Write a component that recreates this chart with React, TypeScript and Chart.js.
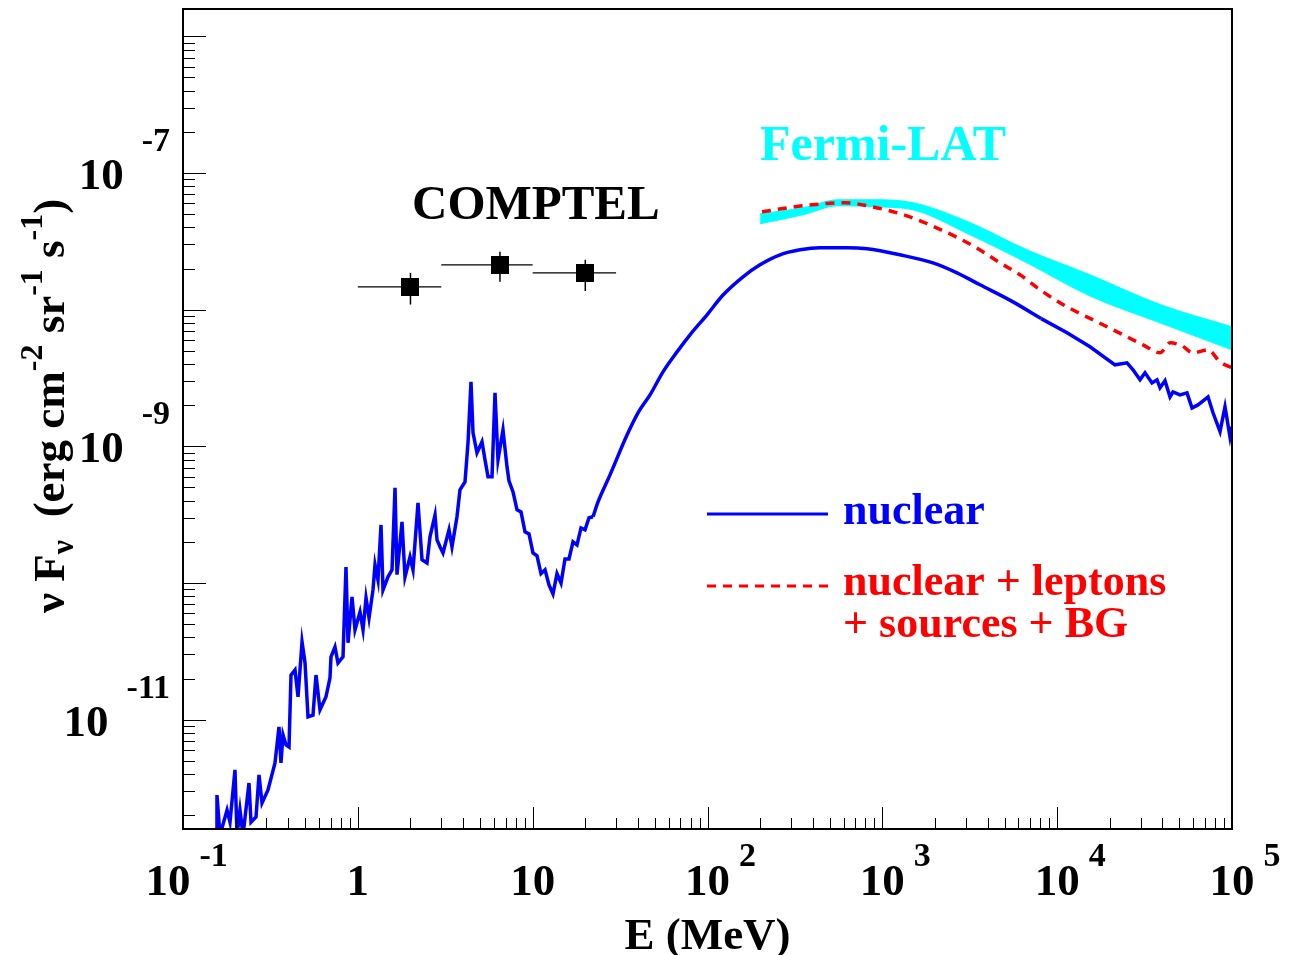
import React, { useEffect, useRef } from "react";
import { Chart, registerables } from "chart.js";

Chart.register(...registerables);

// ---------- data ----------
const nuclearE = [
  0.1545, 0.1564, 0.1628, 0.1786, 0.1857, 0.1983, 0.2037, 0.2118, 0.2204, 0.2385,
  0.2449, 0.2616, 0.2721, 0.2831, 0.3063, 0.3359, 0.354, 0.3634, 0.3733, 0.3883,
  0.404, 0.4147, 0.4372, 0.4549, 0.4796, 0.4989, 0.5188, 0.5541, 0.5764, 0.6075,
  0.6574, 0.693, 0.7022, 0.7401, 0.77, 0.8226, 0.8555, 0.8787, 0.9262, 0.9634,
  1.029, 1.071, 1.114, 1.159, 1.221, 1.254, 1.304, 1.357, 1.393, 1.488,
  1.569, 1.632, 1.675, 1.789, 1.861, 1.988, 2.068, 2.209, 2.328, 2.487,
  2.587, 2.764, 2.837, 2.951, 3.07, 3.323, 3.456, 3.691, 3.84, 4.102,
  4.267, 4.439, 4.558, 4.803, 5.131, 5.339, 5.554, 5.854, 6.09, 6.335,
  6.765, 7.131, 7.32, 7.72, 8.14, 8.58, 9.04, 9.53, 10.04, 10.59,
  11.16, 11.77, 12.4, 13.07, 13.78, 14.53, 15.31, 16.14, 17.01, 17.93,
  18.9, 19.93, 21.0, 22.14, 23.65, 27.7,
  34.64, 40.05, 46.91, 55.66, 66.93, 79.43, 99.36, 122.7, 159.7, 199.7,
  259.9, 338.1, 440.1, 628.1, 817.3, 1262, 1950, 2674, 3620, 5590,
  8100, 11390, 15410, 21420, 25090, 27160, 29780, 31800, 34870, 37250,
  38760, 41390, 44210, 45990, 50430, 55300, 59060, 63920, 72930, 77880,
  85410, 91200, 97410, 100000,
];
const nuclearF = [
  1.43e-12, 2.81e-12, 1.43e-12, 2.18e-12, 1.78e-12, 4.29e-12, 1.43e-12, 2.18e-12, 1.43e-12, 3.44e-12,
  1.78e-12, 1.94e-12, 3.94e-12, 2.46e-12, 3.06e-12, 4.82e-12, 8.85e-12, 4.82e-12, 7.73e-12, 6.53e-12,
  6.31e-12, 2.12e-11, 2.31e-11, 1.47e-11, 3.71e-11, 2.6e-11, 1.05e-11, 1.08e-11, 2.12e-11, 1.18e-11,
  1.47e-11, 2.02e-11, 2.88e-11, 3.4e-11, 2.6e-11, 2.88e-11, 1.31e-10, 3.65e-11, 7.91e-11, 4.54e-11,
  6.14e-11, 4.54e-11, 7.78e-11, 5.56e-11, 8.9e-11, 1.36e-10, 1.05e-10, 2.66e-10, 8.9e-11, 1.11e-10,
  1.25e-10, 4.97e-10, 1.15e-10, 2.8e-10, 1.11e-10, 1.55e-10, 1.25e-10, 3.86e-10, 1.48e-10, 1.4e-10,
  2.18e-10, 3.15e-10, 2.07e-10, 1.84e-10, 1.66e-10, 2.45e-10, 1.84e-10, 3.05e-10, 4.8e-10, 5.5e-10,
  1.06e-9, 2.96e-9, 1.26e-9, 8.96e-10, 1.08e-9, 7.96e-10, 5.98e-10, 5.98e-10, 2.46e-9, 7.96e-10,
  1.32e-9, 7.08e-10, 5.59e-10, 4.64e-10, 3.43e-10, 3.31e-10, 2.37e-10, 2.29e-10, 1.66e-10, 1.58e-10,
  1.17e-10, 1.25e-10, 9.69e-11, 8.32e-11, 1.17e-10, 1.0e-10, 1.5e-10, 1.5e-10, 2.0e-10, 1.9e-10,
  2.53e-10, 2.45e-10, 3.0e-10, 3.05e-10, 3.92e-10, 6.18e-10,
  1.21e-9, 1.76e-9, 2.38e-9, 3.51e-9, 4.91e-9, 6.55e-9, 9.17e-9, 1.28e-8, 1.74e-8, 2.13e-8,
  2.52e-8, 2.74e-8, 2.84e-8, 2.84e-8, 2.79e-8, 2.52e-8, 2.2e-8, 1.86e-8, 1.52e-8, 1.14e-8,
  8.6e-9, 6.77e-9, 5.35e-9, 3.95e-9, 4.08e-9, 3.63e-9, 3.07e-9, 3.45e-9, 2.91e-9, 3.07e-9,
  2.68e-9, 3.02e-9, 2.3e-9, 2.5e-9, 2.38e-9, 2.46e-9, 1.91e-9, 2.01e-9, 2.3e-9, 1.76e-9,
  1.28e-9, 1.95e-9, 1.17e-9, 1.39e-9,
];
// energies where the nuclear curve changes from noisy to smooth and back
const nuclearSmoothFrom = 22.14;
const nuclearSmoothTo = 8100;

const totalE = [
  205, 351.8, 611.7, 873, 1384, 2166, 3390, 4711, 6131, 8300, 11390,
  16900, 23800, 30980, 38760, 44210, 51770, 59840, 72930, 85410, 100000,
];
const totalF = [
  5.2e-8, 5.76e-8, 6.06e-8, 5.66e-8, 4.86e-8, 3.84e-8, 2.88e-8, 2.2e-8, 1.8e-8, 1.35e-8, 1.05e-8,
  8.15e-9, 6.55e-9, 5.53e-9, 4.83e-9, 5.72e-9, 5.44e-9, 4.83e-9, 5.08e-9, 4.15e-9, 3.75e-9,
];

const fermiE = [200, 352, 558, 908, 1498, 3091, 6722, 15400, 38800, 100000];
const fermiHigh = [5.03e-8, 5.57e-8, 6.37e-8, 6.37e-8, 6.06e-8, 4.4e-8, 2.74e-8, 1.8e-8, 1.09e-8, 7.49e-9];
const fermiLow = [4.25e-8, 4.95e-8, 5.76e-8, 5.66e-8, 5.38e-8, 3.59e-8, 2.2e-8, 1.26e-8, 8.01e-9, 5.08e-9];

const comptelE = [2.0, 6.5, 20];
const comptelEmin = [1, 3, 10];
const comptelEmax = [3, 10, 30];
const comptelF = [1.47e-8, 2.13e-8, 1.86e-8];
const comptelFlo = [1.09e-8, 1.6e-8, 1.37e-8];
const comptelFhi = [1.86e-8, 2.65e-8, 2.32e-8];

const xMin = 0.1;
const xMax = 1e5;
const yMin = Math.pow(10, -11.8);
const yMax = Math.pow(10, -5.8);

const xDecades = [-1, 0, 1, 2, 3, 4, 5];
const xTickBase = ["10", "1", "10", "10", "10", "10", "10"];
const xTickExp = ["-1", "", "", "2", "3", "4", "5"];
const yLabelDecades = [-7, -9, -11];
const yDecades = [-12, -11, -10, -9, -8, -7, -6];

// ---------- drawing helpers ----------
const FONT = '"Liberation Serif", "Times New Roman", Times, serif';
const font = (px: number) => `bold ${px}px ${FONT}`;

function txt(ctx: CanvasRenderingContext2D, s: string, x: number, y: number, size: number, color: string, align: CanvasTextAlign = "left") {
  ctx.font = font(size);
  ctx.fillStyle = color;
  ctx.textAlign = align;
  ctx.textBaseline = "alphabetic";
  ctx.fillText(s, x, y);
}

const errorBarPlugin = {
  id: "comptelErrors",
  beforeDatasetsDraw(chart: any) {
    const { ctx, scales } = chart;
    const x = scales.x;
    const y = scales.y;
    ctx.save();
    ctx.strokeStyle = "#000";
    for (let i = 0; i < comptelE.length; i++) {
      const px = x.getPixelForValue(comptelE[i]);
      const py = y.getPixelForValue(comptelF[i]);
      ctx.lineWidth = 1.2;
      ctx.beginPath();
      ctx.moveTo(x.getPixelForValue(comptelEmin[i]), py);
      ctx.lineTo(x.getPixelForValue(comptelEmax[i]), py);
      ctx.stroke();
      ctx.lineWidth = 1.5;
      ctx.beginPath();
      ctx.moveTo(px, y.getPixelForValue(comptelFlo[i]));
      ctx.lineTo(px, y.getPixelForValue(comptelFhi[i]));
      ctx.stroke();
    }
    ctx.restore();
  },
};

const rootAxesPlugin = {
  id: "rootAxes",
  afterDraw(chart: any) {
    const { ctx, chartArea: a, scales } = chart;
    const x = scales.x;
    const y = scales.y;
    ctx.save();

    // ticks
    ctx.strokeStyle = "#000";
    ctx.lineWidth = 1;
    for (const d of xDecades) {
      for (let m = 1; m <= 9; m++) {
        const v = m * Math.pow(10, d);
        if (v < xMin * 0.999 || v > xMax * 1.001) continue;
        const px = Math.round(x.getPixelForValue(v)) + 0.5;
        const len = m === 1 ? 22 : 11;
        ctx.beginPath();
        ctx.moveTo(px, a.bottom);
        ctx.lineTo(px, a.bottom - len);
        ctx.stroke();
      }
    }
    for (const d of yDecades) {
      for (let m = 1; m <= 9; m++) {
        const v = m * Math.pow(10, d);
        if (v < yMin * 0.999 || v > yMax * 1.001) continue;
        const py = Math.round(y.getPixelForValue(v)) + 0.5;
        const len = m === 1 ? 23 : 12;
        ctx.beginPath();
        ctx.moveTo(a.left, py);
        ctx.lineTo(a.left + len, py);
        ctx.stroke();
      }
    }

    // frame
    ctx.lineWidth = 2;
    ctx.strokeRect(a.left, a.top, a.right - a.left, a.bottom - a.top);

    // x tick labels
    xDecades.forEach((d, i) => {
      const px = x.getPixelForValue(Math.pow(10, d));
      const base = xTickBase[i];
      const exp = xTickExp[i];
      if (!exp) {
        txt(ctx, base, px, 895, 45, "#000", "center");
      } else {
        const c = px + (d < 0 ? -15 : 0);
        txt(ctx, base, c, 895, 45, "#000", "center");
        ctx.font = font(45);
        const w = ctx.measureText(base).width;
        txt(ctx, exp, c + w / 2 + 9, 866, 34, "#000", "left");
      }
    });

    // y tick labels
    yLabelDecades.forEach((d) => {
      const py = y.getPixelForValue(Math.pow(10, d));
      const exp = String(d);
      ctx.font = font(34);
      const ew = ctx.measureText(exp).width;
      txt(ctx, exp, 170, py - 22, 34, "#000", "right");
      txt(ctx, "10", 170 - ew - 18, py + 16, 45, "#000", "right");
    });

    // x title
    txt(ctx, "E (MeV)", (a.left + a.right) / 2, 949, 45, "#000", "center");

    // y title (rotated)
    ctx.save();
    ctx.translate(64, 613);
    ctx.rotate(-Math.PI / 2);
    const segs: [string, number, number][] = [
      ["\u03bd F", 45, 0],
      ["\u03bd", 32, 9],
      ["  (erg cm", 45, 0],
      ["-2", 32, -22],
      [" sr", 45, 0],
      ["-1", 32, -22],
      [" s", 45, 0],
      ["-1", 32, -22],
      [")", 45, 0],
    ];
    let cx = 0;
    for (const [s, size, dy] of segs) {
      ctx.font = font(size);
      ctx.fillStyle = "#000";
      ctx.textAlign = "left";
      ctx.fillText(s, cx, dy);
      cx += ctx.measureText(s).width;
    }
    ctx.restore();

    // annotations
    txt(ctx, "COMPTEL", 412, 219, 49, "#000");
    txt(ctx, "Fermi-LAT", 760, 160, 50, "#00ffff");

    // legend
    ctx.lineWidth = 3;
    ctx.strokeStyle = "#0000ff";
    ctx.beginPath();
    ctx.moveTo(707, 514);
    ctx.lineTo(828, 514);
    ctx.stroke();
    ctx.strokeStyle = "#ff0000";
    ctx.setLineDash([9, 7]);
    ctx.beginPath();
    ctx.moveTo(707, 586);
    ctx.lineTo(828, 586);
    ctx.stroke();
    ctx.setLineDash([]);
    txt(ctx, "nuclear", 843, 524, 44, "#0000ff");
    txt(ctx, "nuclear + leptons", 843, 595, 44, "#ff0000");
    txt(ctx, "+ sources + BG", 843, 637, 44, "#ff0000");

    ctx.restore();
  },
};

const pts = (xs: number[], ys: number[]) => xs.map((e, i) => ({ x: e, y: ys[i] }));

export default function App() {
  const ref = useRef<HTMLCanvasElement>(null);

  useEffect(() => {
    const canvas = ref.current;
    if (!canvas) return;
    const square = document.createElement("canvas");
    square.width = 18;
    square.height = 18;
    const sctx = square.getContext("2d");
    if (sctx) {
      sctx.fillStyle = "#000";
      sctx.fillRect(0, 0, 18, 18);
    }
    const nuclearPts = pts(nuclearE, nuclearF);
    const iA = nuclearE.indexOf(nuclearSmoothFrom);
    const iB = nuclearE.indexOf(nuclearSmoothTo);
    const nuclearStyle = { borderColor: "#0000ff", borderWidth: 3.5, pointRadius: 0, fill: false };
    const chart = new Chart(canvas, {
      type: "line",
      data: {
        datasets: [
          {
            label: "nuclear + leptons + sources + BG",
            data: pts(totalE, totalF),
            borderColor: "#ff0000",
            borderWidth: 3.5,
            borderDash: [9, 7],
            pointRadius: 0,
            fill: false,
            cubicInterpolationMode: "monotone",
          },
          { label: "nuclear", data: nuclearPts.slice(0, iA + 1), ...nuclearStyle, tension: 0 },
          { label: "nuclear", data: nuclearPts.slice(iA, iB + 1), ...nuclearStyle, cubicInterpolationMode: "monotone" },
          { label: "nuclear", data: nuclearPts.slice(iB), ...nuclearStyle, tension: 0 },
          {
            label: "COMPTEL",
            data: pts(comptelE, comptelF),
            showLine: false,
            pointStyle: square,
            pointRadius: 1,
            pointBorderWidth: 0,
          },
          {
            label: "Fermi-LAT high",
            data: pts(fermiE, fermiHigh),
            borderColor: "#00ffff",
            backgroundColor: "#00ffff",
            borderWidth: 1,
            pointRadius: 0,
            fill: "+1",
            cubicInterpolationMode: "monotone",
          },
          {
            label: "Fermi-LAT low",
            data: pts(fermiE, fermiLow),
            borderColor: "#00ffff",
            borderWidth: 1,
            pointRadius: 0,
            fill: false,
            cubicInterpolationMode: "monotone",
          },
        ],
      },
      options: {
        responsive: false,
        devicePixelRatio: 1,
        animation: false,
        events: [],
        layout: { padding: { left: 183, top: 9, right: 62, bottom: 126 } },
        plugins: {
          legend: { display: false },
          tooltip: { enabled: false },
          title: { display: false },
        },
        scales: {
          x: { type: "logarithmic", min: xMin, max: xMax, display: false },
          y: { type: "logarithmic", min: yMin, max: yMax, display: false },
        },
      },
      plugins: [errorBarPlugin, rootAxesPlugin],
    } as any);
    return () => chart.destroy();
  }, []);

  return (
    <div style={{ position: "absolute", left: 0, top: 0, width: 1294, height: 955, background: "#fff" }}>
      <canvas ref={ref} width={1294} height={955} style={{ display: "block", width: 1294, height: 955 }} />
    </div>
  );
}
